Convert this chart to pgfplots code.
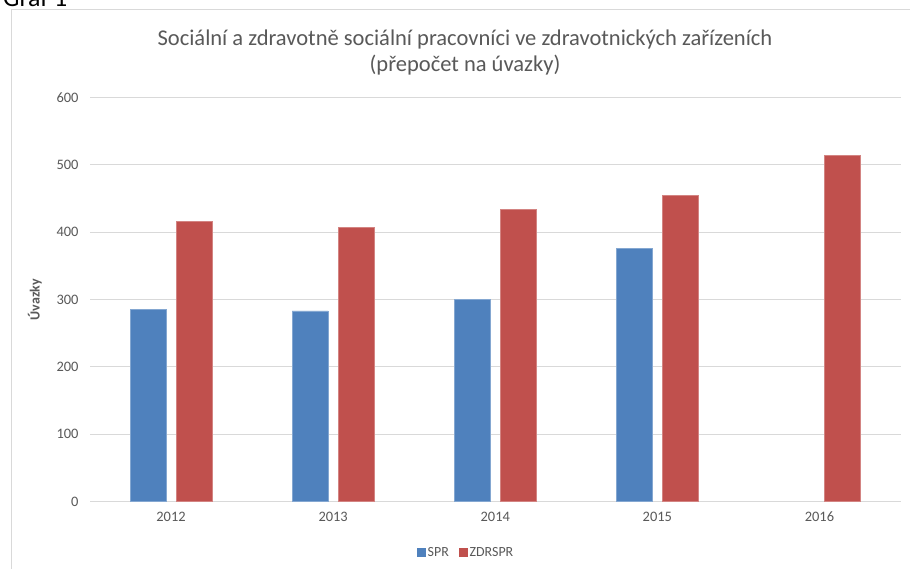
\documentclass[border=0pt]{standalone}
\usepackage{fontspec}
\setmainfont{Carlito}
\usepackage{pgfplots}
\pgfplotsset{compat=1.18}
\definecolor{txt}{HTML}{595959}
\definecolor{grd}{HTML}{D9D9D9}
\definecolor{cblue}{HTML}{4F81BD}
\definecolor{cred}{HTML}{C0504D}
\begin{document}
\begin{tikzpicture}[x=1bp,y=1bp]
\clip (0,0) rectangle (910,569);
\useasboundingbox (0,0) rectangle (910,569);
\fill[white] (0,0) rectangle (910,569);
\draw[grd, line width=1bp] (11,0) -- (11,559) -- (910,559);
\node[anchor=base west, font=\fontsize{26}{30}\selectfont, text=black, inner sep=0] at (3,562) {Graf 1};
\node[anchor=base, font=\fontsize{22.6}{26}\selectfont, text=txt, inner sep=0] at (465,523) {Sociální a zdravotně sociální pracovníci ve zdravotnických zařízeních};
\node[anchor=base, font=\fontsize{22.6}{26}\selectfont, text=txt, inner sep=0] at (465,497) {(přepočet na úvazky)};
\begin{axis}[
  at={(90bp,67.3bp)}, anchor=south west,
  scale only axis, width=810.5bp, height=404.4bp,
  ybar=10bp, bar width=36bp,
  xmin=-0.5, xmax=4.5, ymin=0, ymax=600,
  xtick={0,1,2,3,4}, xticklabels={2012,2013,2014,2015,2016},
  ytick={0,100,200,300,400,500,600},
  ymajorgrids, grid style={grd, line width=1bp},
  axis x line*=bottom, axis y line*=left,
  y axis line style={draw=none},
  x axis line style={grd, line width=1bp},
  major tick length=0,
  tick label style={font=\fontsize{14.5}{17}\selectfont, text=txt},
  /pgf/number format/assume math mode=true,
  yticklabel style={xshift=-8bp},
  xticklabel style={yshift=-7bp},
  ylabel={Úvazky},
  ylabel style={at={(axis description cs:-0.0679,0.5)}, anchor=center, font=\bfseries\fontsize{14}{16}\selectfont, text=txt},
  legend style={at={(0.464,-0.126)}, anchor=center, draw=none, fill=none, legend columns=-1,
    font=\fontsize{14}{16}\selectfont, text=txt,
    /tikz/every even column/.append style={column sep=8bp}},
]
\addplot[fill=cblue, draw=cblue!70!white, line width=0.8bp,
  legend image code/.code={\fill[cblue] (0bp,-4bp) rectangle (8bp,4bp);}]
  coordinates {(0,285) (1,283) (2,300) (3,376)};
\addlegendentry{SPR}
\addplot[fill=cred, draw=cred!70!white, line width=0.8bp,
  legend image code/.code={\fill[cred] (0bp,-4bp) rectangle (8bp,4bp);}]
  coordinates {(0,416) (1,407) (2,434) (3,454) (4,514)};
\addlegendentry{ZDRSPR}
\end{axis}
\end{tikzpicture}
\end{document}
